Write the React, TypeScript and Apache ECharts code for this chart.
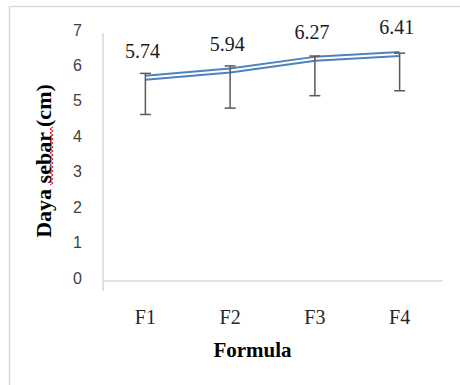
import React, { useEffect, useRef } from "react";
import * as echarts from "echarts";

const categories = ["F1", "F2", "F3", "F4"];
const means = [5.74, 5.94, 6.27, 6.41];
const errHigh = [5.86, 6.07, 6.35, 6.43];
const errLow = [4.7, 4.88, 5.23, 5.37];
const yTicks = { min: 0, max: 7, interval: 1 };

export default function App() {
  const ref = useRef<HTMLDivElement>(null);
  useEffect(() => {
    if (!ref.current) return;
    const chart = echarts.init(ref.current, undefined, { renderer: "svg" });
    const squiggle: number[][] = [];
    for (let y = 185, k = 0; y >= 127; y -= 2, k++) {
      squiggle.push([k % 2 === 0 ? 50 : 53, y]);
    }
    const serif = "Liberation Serif";
    chart.setOption({
      animation: false,
      backgroundColor: "#ffffff",
      textStyle: { fontFamily: serif },
      grid: { left: 103, right: 18, top: 33, bottom: 104 },
      xAxis: {
        type: "category",
        data: categories,
        offset: 10,
        axisLine: { lineStyle: { color: "#D9D9D9", width: 1.5 } },
        axisTick: { show: false },
        axisLabel: {
          margin: 16,
          fontSize: 20,
          fontFamily: serif,
          color: "#262626",
        },
        name: "Formula",
        nameLocation: "middle",
        nameGap: 48,
        nameTextStyle: {
          fontSize: 21,
          fontWeight: "bold",
          fontFamily: serif,
          color: "#000000",
          padding: [0, 40, 0, 0],
        },
      },
      yAxis: {
        type: "value",
        min: yTicks.min,
        max: yTicks.max,
        interval: yTicks.interval,
        splitLine: { show: false },
        axisLine: { show: false },
        axisTick: { show: false },
        axisLabel: {
          margin: 21,
          fontSize: 16,
          fontFamily: "Liberation Sans",
          color: "#404040",
          verticalAlign: "bottom",
          lineHeight: 6,
        },
        name: "Daya sebar (cm)",
        nameLocation: "middle",
        nameGap: 49,
        nameTextStyle: {
          fontSize: 22,
          fontWeight: "bold",
          fontFamily: serif,
          color: "#000000",
          padding: [0, 8, 0, 0],
        },
      },
      graphic: [
        {
          type: "rect",
          shape: { x: 9.5, y: 6.5, width: 470, height: 420 },
          style: { fill: "none", stroke: "#D9D9D9", lineWidth: 1.5 },
          silent: true,
          z: -10,
        },
        {
          type: "line",
          shape: { x1: 103, y1: 33, x2: 103, y2: 291 },
          style: { stroke: "#D9D9D9", lineWidth: 1.5 },
          silent: true,
        },
        {
          type: "polyline",
          shape: { points: squiggle },
          style: { stroke: "#FF0000", lineWidth: 1, fill: "none" },
          silent: true,
        },
      ],
      series: [
        {
          type: "line",
          data: means,
          symbol: "none",
          lineStyle: { color: "#4F81BD", width: 6 },
          z: 2,
        },
        {
          type: "line",
          data: means,
          symbol: "none",
          lineStyle: { color: "#FFFFFF", width: 2 },
          z: 3,
        },
        {
          type: "custom",
          z: 4,
          data: categories.map((c, i) => [i, errHigh[i], errLow[i], means[i]]),
          renderItem: (params: any, api: any) => {
            const x = api.value(0);
            const hi = api.coord([x, api.value(1)]);
            const lo = api.coord([x, api.value(2)]);
            const m = api.coord([x, api.value(3)]);
            const w = 5.5;
            const st = { stroke: "#595959", lineWidth: 1.5 };
            return {
              type: "group",
              children: [
                { type: "line", shape: { x1: hi[0], y1: hi[1], x2: lo[0], y2: lo[1] }, style: st },
                { type: "line", shape: { x1: hi[0] - w, y1: hi[1], x2: hi[0] + w, y2: hi[1] }, style: st },
                { type: "line", shape: { x1: lo[0] - w, y1: lo[1], x2: lo[0] + w, y2: lo[1] }, style: st },
                {
                  type: "text",
                  x: m[0] - 3,
                  y: m[1] - 27,
                  style: {
                    text: Number(api.value(3)).toFixed(2),
                    font: "normal 20px 'Liberation Serif', serif",
                    fill: "#1a1a1a",
                    align: "center",
                    verticalAlign: "middle",
                  },
                },
              ],
            };
          },
        },
      ],
    });
    return () => chart.dispose();
  }, []);
  return (
    <div
      ref={ref}
      style={{ position: "fixed", left: 0, top: 0, width: 460, height: 385, background: "#fff" }}
    />
  );
}
